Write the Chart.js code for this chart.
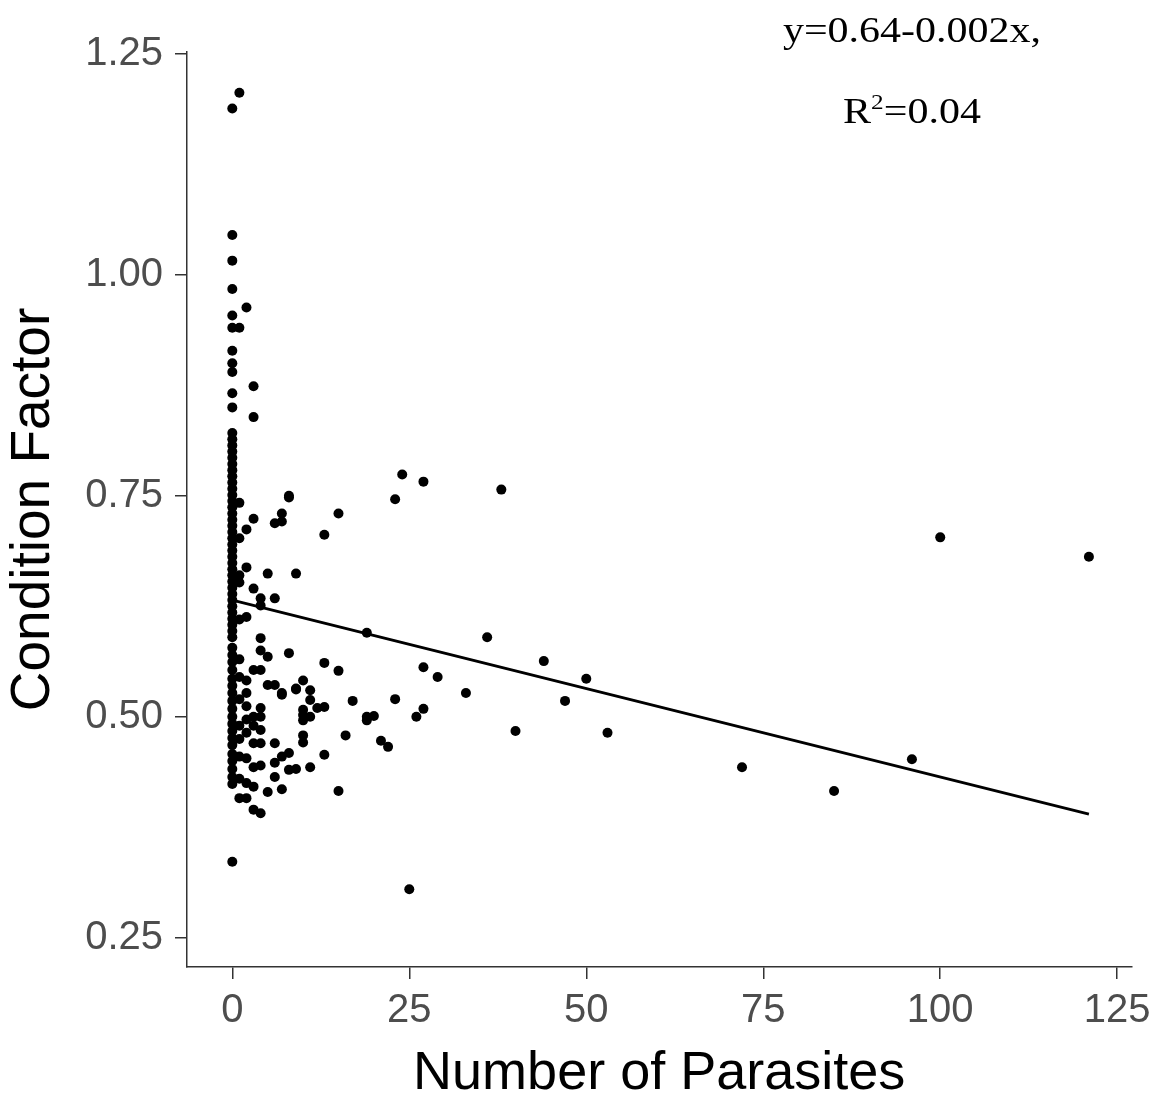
<!DOCTYPE html>
<html>
<head>
<meta charset="utf-8">
<title>Condition Factor vs Number of Parasites</title>
<script src="https://cdn.jsdelivr.net/npm/chart.js@4"></script>
<style>
    body { margin: 0; background: #fff; }
    #wrap { position: relative; width: 1159px; height: 1099px; }
    .eq {
        position: absolute;
        left: 912px;
        font-family: "Liberation Serif", "Times New Roman", serif;
        font-size: 35px;
        line-height: 1;
        color: #000;
        white-space: nowrap;
        transform: translateX(-50%) scaleX(1.2);
    }
    .eq sup { font-size: 0.6em; vertical-align: 0.65em; }
</style>
</head>
<body>
<div id="wrap">
    <canvas id="chart"></canvas>
    <div class="eq" style="top:13px;">y=0.64-0.002x,</div>
    <div class="eq" style="top:92px;">R<sup>2</sup>=0.04</div>
</div>
<script>
// parasite counts that occur in the sample
const countLevels = [0, 1, 2, 3, 4, 5, 6, 7, 8, 9, 10, 11, 12, 13, 15, 16, 17, 19, 20, 21, 22, 23, 24, 25, 26, 27, 29, 33, 36, 38, 40, 44, 47, 50, 53, 72, 85, 96, 100, 121];

// condition factor of every fish, grouped by its parasite count
const conditionAtCount = [
    [1.188, 1.045, 1.016, 0.984, 0.954, 0.940, 0.914, 0.900, 0.890, 0.866, 0.850,
     0.821, 0.814, 0.807, 0.800, 0.793, 0.786, 0.779, 0.772, 0.765, 0.758, 0.751, 0.744, 0.737, 0.730,
     0.723, 0.716, 0.709, 0.702, 0.695, 0.688, 0.681, 0.674, 0.667, 0.660, 0.653, 0.646, 0.639, 0.632,
     0.625, 0.618, 0.611, 0.604, 0.597, 0.590, 0.578, 0.570, 0.562, 0.553, 0.543, 0.535, 0.527, 0.518,
     0.509, 0.500, 0.492, 0.484, 0.476, 0.468, 0.458, 0.450, 0.441, 0.432, 0.424, 0.336],
    [1.206, 0.940, 0.742, 0.702, 0.660, 0.652, 0.610, 0.565, 0.545, 0.520, 0.490, 0.475, 0.455, 0.430, 0.408],
    [0.963, 0.712, 0.669, 0.613, 0.541, 0.527, 0.512, 0.497, 0.482, 0.453, 0.425, 0.408],
    [0.874, 0.839, 0.724, 0.645, 0.553, 0.500, 0.490, 0.470, 0.443, 0.421, 0.395],
    [0.634, 0.626, 0.589, 0.575, 0.553, 0.510, 0.500, 0.485, 0.470, 0.445, 0.391],
    [0.662, 0.568, 0.536, 0.415],
    [0.719, 0.634, 0.536, 0.470, 0.448, 0.432],
    [0.730, 0.721, 0.527, 0.525, 0.455, 0.418],
    [0.750, 0.748, 0.572, 0.459, 0.440],
    [0.662, 0.532, 0.531, 0.441],
    [0.541, 0.508, 0.502, 0.496, 0.479, 0.471],
    [0.530, 0.519, 0.500, 0.443],
    [0.510],
    [0.706, 0.561, 0.511, 0.457],
    [0.730, 0.552, 0.416],
    [0.479],
    [0.518],
    [0.595, 0.496, 0.500],
    [0.501],
    [0.473],
    [0.466],
    [0.746, 0.520],
    [0.774],
    [0.305],
    [0.500],
    [0.766, 0.556, 0.509],
    [0.545],
    [0.527],
    [0.590],
    [0.757],
    [0.484],
    [0.563],
    [0.518],
    [0.543],
    [0.482],
    [0.443],
    [0.416],
    [0.452],
    [0.703],
    [0.681]
];

// fitted regression line (end points)
const fitX = [0, 121];
const fitY = [0.632, 0.390];

const xTicks = [0, 25, 50, 75, 100, 125];
const xTickLabels = ["0", "25", "50", "75", "100", "125"];
const yTicks = [0.25, 0.50, 0.75, 1.00, 1.25];
const yTickLabels = ["0.25", "0.50", "0.75", "1.00", "1.25"];

Chart.defaults.font.family = "'Liberation Sans', Arial, sans-serif";

// flatten into scatter points
const points = [];
countLevels.forEach((c, i) => {
    conditionAtCount[i].forEach(v => points.push({ x: c, y: v }));
});
const fitLine = fitX.map((x, i) => ({ x: x, y: fitY[i] }));

const axisColor = '#333333';

new Chart(document.getElementById('chart'), {
    type: 'scatter',
    data: {
        datasets: [
            {
                data: points,
                backgroundColor: '#000',
                borderWidth: 0,
                pointRadius: 5,
                pointHoverRadius: 5
            },
            {
                type: 'line',
                data: fitLine,
                borderColor: '#000',
                borderWidth: 2.8,
                pointRadius: 0,
                fill: false
            }
        ]
    },
    options: {
        responsive: true,
        maintainAspectRatio: false,
        animation: false,
        layout: { padding: { top: 52, right: 27, left: 0, bottom: 0 } },
        plugins: {
            legend: { display: false },
            tooltip: { enabled: false }
        },
        scales: {
            x: {
                type: 'linear',
                min: -6.4,
                max: 127,
                afterFit: s => { s.height = 132; },
                afterBuildTicks: s => { s.ticks = xTicks.map(v => ({ value: v })); },
                grid: { drawOnChartArea: false, drawTicks: true, tickLength: 12, color: axisColor, lineWidth: 1.5 },
                border: { display: true, color: axisColor, width: 1.5 },
                ticks: {
                    color: '#4d4d4d',
                    font: { size: 40 },
                    padding: 8,
                    maxRotation: 0,
                    callback: v => xTickLabels[xTicks.indexOf(v)]
                },
                title: {
                    display: true,
                    text: 'Number of Parasites',
                    color: '#000',
                    font: { size: 54, lineHeight: 1 },
                    padding: { top: 0, bottom: -2 }
                }
            },
            y: {
                type: 'linear',
                min: 0.217,
                max: 1.252,
                afterFit: s => { s.width = 187; },
                afterBuildTicks: s => { s.ticks = yTicks.map(v => ({ value: v })); },
                grid: { drawOnChartArea: false, drawTicks: true, tickLength: 12, color: axisColor, lineWidth: 1.5 },
                border: { display: true, color: axisColor, width: 1.5 },
                ticks: {
                    color: '#4d4d4d',
                    font: { size: 40 },
                    padding: 12,
                    callback: v => yTickLabels[yTicks.indexOf(v)]
                },
                title: {
                    display: true,
                    text: 'Condition Factor',
                    color: '#000',
                    font: { size: 55, lineHeight: 1 },
                    padding: { top: 6, bottom: 0 }
                }
            }
        }
    }
});
</script>
</body>
</html>
